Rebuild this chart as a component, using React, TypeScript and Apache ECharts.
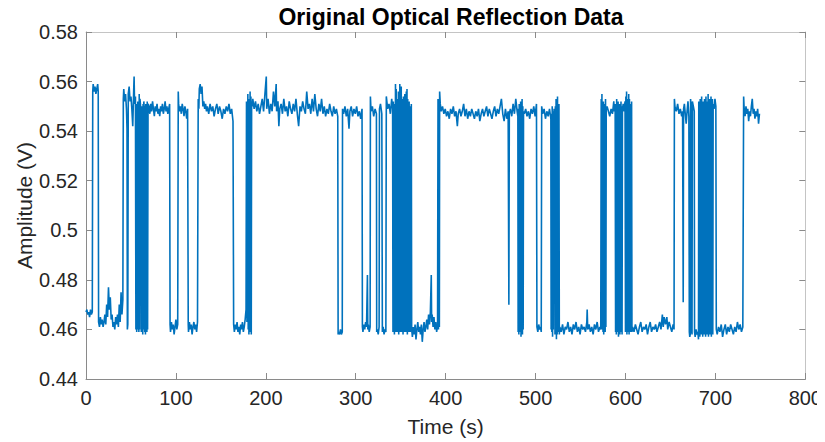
import React, { useEffect, useRef } from "react";
import * as echarts from "echarts";

// [time (s), amplitude (V)], split by time window
const samples0to100: [number, number][] = [
  [0,0.467],[1,0.468],[2,0.466],[3,0.467],[4,0.465],[5,0.468],[6,0.466],[7,0.467],
  [7.5,0.556],[8,0.559],[9,0.556],[10,0.558],[11,0.555],[12,0.557],[13,0.559],[13.6,0.556],
  [14,0.463],[15,0.461],[16,0.465],[17,0.462],[18,0.464],[19,0.461],[20,0.463],[21,0.466],[22,0.462],[23,0.470],[24,0.465],[25,0.477],[26,0.468],[27,0.473],[28,0.464],[29,0.466],[30,0.461],[31,0.463],[32,0.460],[33,0.465],[34,0.462],[35,0.466],[36,0.461],[37,0.470],[38,0.463],[39,0.475],[40,0.466],[41,0.472],
  [41.5,0.553],[42,0.557],[43,0.552],[44,0.555],[45,0.549],[45.6,0.541],[46,0.460],[46.5,0.462],[47,0.555],[48,0.558],[49,0.552],[50,0.554],[51,0.549],[52,0.542],[53,0.556],[53.5,0.562],[54,0.551],[55,0.554],
  [55.5,0.460],[56,0.549],[56.4,0.459],[56.8,0.551],[57.2,0.460],[57.6,0.552],[58,0.461],[58.4,0.548],[58.8,0.459],[59.2,0.555],[59.6,0.460],[60,0.553],[60.5,0.551],[61,0.548],[61.5,0.459],[61.9,0.550],[62.3,0.461],[62.7,0.549],[63.1,0.458],[63.5,0.551],[63.9,0.460],[64.3,0.552],[64.8,0.549],[65.3,0.459],[65.7,0.550],[66.1,0.458],[66.5,0.551],[66.9,0.460],[67.3,0.549],[67.7,0.459],[68.1,0.552],[68.5,0.460],[69,0.551],
  [70,0.550],[71,0.547],[72,0.551],[73,0.548],[74,0.552],[75,0.549],[76,0.546],[77,0.550],[78,0.548],[79,0.551],[80,0.547],[81,0.549],[82,0.546],[83,0.550],[84,0.548],[85,0.551],[86,0.547],[87,0.549],[88,0.552],[89,0.548],[90,0.550],[91,0.547],[92,0.549],[93,0.551],
  [93.5,0.462],[94,0.459],[95,0.463],[96,0.460],[97,0.462],[98,0.458],[99,0.461],[100,0.464],
];

const samples100to200: [number, number][] = [
  [101,0.460],[102,0.462],
  [102.6,0.556],[103,0.551],[104,0.548],[105,0.550],[106,0.547],[107,0.551],[108,0.549],[109,0.546],[110,0.550],[111,0.548],[112,0.545],[113,0.549],
  [113.7,0.462],[114,0.459],[115,0.463],[116,0.460],[117,0.462],[118,0.458],[119,0.461],[120,0.463],[121,0.460],[122,0.462],[123,0.459],[124,0.463],
  [124.8,0.553],[125.5,0.549],[126,0.557],[127,0.559],[128,0.555],[129,0.558],[130,0.550],[131,0.552],[132,0.549],[133,0.551],[134,0.548],
  [135,0.550],[136.5,0.547],[138,0.551],[139.5,0.548],[141,0.550],[142.5,0.546],[144,0.549],[145.5,0.551],[147,0.547],[148.5,0.550],[150,0.548],[151.5,0.545],[153,0.549],[154.5,0.547],[156,0.550],[157.5,0.548],[159,0.551],[160.5,0.547],[162,0.549],[163.5,0.544],
  [164.2,0.462],[165,0.459],[166,0.462],[167,0.460],[168,0.463],[169,0.459],[170,0.461],[171,0.458],[172,0.462],[173,0.460],[174,0.463],[175,0.459],[176,0.461],[177,0.464],[178,0.468],
  [178.5,0.552],[179,0.463],[179.5,0.470],[180,0.555],[180.4,0.460],[180.8,0.553],[181.2,0.458],[181.6,0.551],[182,0.459],[182.5,0.556],[183,0.460],[183.4,0.554],[183.8,0.458],[184.2,0.552],[184.8,0.550],
  [185.5,0.553],[187,0.549],[188.5,0.552],[190,0.548],[191.5,0.551],[193,0.547],[194.5,0.550],[196,0.553],[197.5,0.548],[199,0.555],
];

const samples200to300: [number, number][] = [
  [200.5,0.562],[201,0.549],[202.5,0.553],[204,0.547],[205.5,0.551],[207,0.548],[208.5,0.556],[210,0.550],[211.5,0.559],[212,0.548],[213.5,0.552],[214.5,0.542],[215.5,0.549],[217,0.551],[218.5,0.547],[220,0.553],[221.5,0.548],[223,0.550],[224.5,0.546],[226,0.552],[227.5,0.549],[229,0.547],[230.5,0.551],[232,0.548],[233.5,0.553],[235,0.547],[236.5,0.542],[238,0.550],[239.5,0.548],[241,0.552],[242.5,0.549],[244,0.547],[245.5,0.556],[247,0.549],[248.5,0.551],[250,0.547],[251.5,0.553],[253,0.548],[254.5,0.555],[256,0.549],[257.5,0.546],[259,0.551],[260.5,0.548],[262,0.553],[263.5,0.547],[265,0.550],[266.5,0.546],[268,0.549],[269.5,0.547],[271,0.551],[272.5,0.548],[274,0.546],[275.5,0.550],[277,0.547],[278.5,0.549],[280,0.546],
  [280.4,0.458],[281,0.459],[282,0.458],[283,0.460],[284,0.458],[285,0.459],
  [285.3,0.549],[286.5,0.547],[288,0.550],[289.5,0.546],[291,0.549],[292.5,0.541],[293.5,0.548],[295,0.550],[296.5,0.546],[298,0.549],[299.5,0.547],
];

const samples300to400: [number, number][] = [
  [301,0.550],[302.5,0.546],[304,0.548],[305.5,0.545],[307,0.549],
  [307.4,0.461],[308,0.459],[309,0.462],[310,0.460],[311,0.463],[312,0.461],[313,0.482],[313.4,0.460],[314,0.462],[315,0.459],[316,0.461],
  [316.3,0.554],[317,0.548],[318.5,0.550],[320,0.546],[321.5,0.549],[323,0.547],[323.3,0.459],[324,0.460],[325,0.458],[326,0.461],[326.4,0.549],[327.5,0.551],[329,0.547],[329.6,0.459],[330.5,0.461],[331.5,0.458],[332.5,0.460],[333.5,0.459],[334,0.554],[335.5,0.549],[337,0.551],[338.5,0.547],[340,0.553],[341,0.549],
  [341.4,0.459],[341.8,0.552],[342.2,0.460],[342.6,0.549],[343,0.458],[343.4,0.551],[343.8,0.460],[344.2,0.559],[344.6,0.459],[345,0.557],[345.4,0.461],[345.8,0.550],[346.2,0.459],[346.6,0.553],[347,0.460],[347.4,0.556],[347.8,0.458],[348.2,0.552],[348.6,0.460],[349,0.559],[349.4,0.459],[349.8,0.551],[350.2,0.461],[350.6,0.558],[351,0.459],[351.4,0.553],[351.8,0.460],[352.2,0.550],[352.6,0.458],[353,0.554],[353.4,0.460],[353.8,0.551],[354.2,0.459],[354.6,0.555],[355,0.461],[355.4,0.552],[355.8,0.459],[356.2,0.556],[356.6,0.460],[357,0.557],[357.4,0.458],[357.8,0.553],[358.2,0.460],[358.6,0.549],[359,0.459],[359.4,0.552],[359.8,0.461],[360.2,0.550],[360.6,0.459],[361,0.548],[361.4,0.460],[361.8,0.551],
  [362.2,0.460],[363,0.457],[364,0.461],[365,0.458],[366,0.462],[367,0.456],[368,0.460],[369,0.463],[370,0.459],[371,0.461],[372,0.458],[373,0.462],[374,0.455],[375,0.460],[376,0.463],[377,0.459],[378,0.461],[379,0.464],[380,0.460],[381,0.466],[382,0.462],[383,0.467],[384,0.482],[384.4,0.463],[385,0.466],[386,0.461],[387,0.465],[388,0.460],[389,0.463],[390,0.459],[391,0.462],
  [391.5,0.553],[392,0.460],[392.5,0.552],[393,0.461],
  [393.3,0.556],[394,0.551],[395,0.548],[396.5,0.550],[398,0.547],[399.5,0.549],
];

const samples400to500: [number, number][] = [
  [401,0.546],[402.5,0.548],[404,0.545],[405.5,0.549],[407,0.547],[408.5,0.550],[410,0.546],[411.5,0.548],[413,0.542],[414,0.547],[415.5,0.549],[417,0.546],[418.5,0.548],[420,0.551],[421.5,0.546],[423,0.549],[424.5,0.545],[426,0.548],[427.5,0.546],[429,0.549],[430.5,0.547],[432,0.545],[433.5,0.548],[435,0.546],[436.5,0.549],[438,0.544],[439.5,0.547],[441,0.549],[442.5,0.546],[444,0.548],[445.5,0.550],[447,0.546],[448.5,0.549],[450,0.547],[451.5,0.545],[453,0.548],[454.5,0.550],[456,0.546],[457.5,0.549],[459,0.547],[460.5,0.550],[462,0.553],[463.5,0.547],[465,0.544],[466.5,0.549],[468,0.545],[469.5,0.548],
  [470.3,0.470],[470.8,0.547],
  [472,0.549],[473.5,0.546],[475,0.551],[476.5,0.547],[478,0.553],[479.5,0.548],[480.3,0.546],
  [480.6,0.459],[481,0.549],[481.4,0.458],[481.8,0.551],[482.2,0.460],[482.6,0.548],[483,0.459],[483.4,0.552],[483.8,0.457],[484.2,0.549],[484.6,0.459],[485,0.553],[485.4,0.458],[485.8,0.550],[486.2,0.460],[486.6,0.548],
  [487.5,0.547],[489,0.549],[490.5,0.546],[492,0.548],[493.5,0.545],[495,0.549],[496.5,0.547],[498,0.550],[499.5,0.546],
];

const samples500to600: [number, number][] = [
  [501,0.551],
  [501.5,0.461],[502.5,0.459],[503.5,0.462],[504.5,0.460],[505.5,0.461],[506.3,0.459],
  [506.8,0.550],[508,0.547],[509.5,0.549],[511,0.545],[512.5,0.548],[514,0.546],[515.5,0.549],[517,0.545],
  [517.3,0.460],[517.7,0.547],[518.1,0.459],[518.5,0.550],[518.9,0.457],[519.3,0.548],[519.7,0.460],[520.1,0.546],[520.6,0.549],[521.2,0.547],[521.6,0.458],[522,0.550],[522.4,0.459],[522.8,0.553],[523.2,0.456],[523.6,0.549],[524,0.458],[524.4,0.554],[524.8,0.460],[525.2,0.548],[525.6,0.459],[526,0.551],[526.4,0.458],
  [527,0.461],[528.5,0.459],[530,0.462],[531.5,0.458],[533,0.461],[534.5,0.460],[536,0.463],[537.5,0.459],[539,0.461],[540.5,0.458],[542,0.462],[543.5,0.460],[545,0.463],[546.5,0.459],[548,0.461],[549.5,0.458],[551,0.462],[552.5,0.460],[554,0.461],[555.5,0.459],[557,0.463],[557.4,0.468],[558,0.460],[559.5,0.462],[561,0.459],[562.5,0.461],[564,0.458],[565.5,0.462],[567,0.460],[568.5,0.463],[570,0.459],[571.5,0.461],[572.5,0.460],
  [573,0.553],[573.4,0.460],[573.8,0.555],[574.2,0.462],[574.6,0.551],[575,0.459],[575.4,0.552],[575.8,0.458],[576.2,0.550],[576.6,0.460],[577,0.551],[577.4,0.459],[577.8,0.553],[578.2,0.461],[578.6,0.549],
  [579.5,0.550],[581,0.548],[582.5,0.546],[584,0.549],[585.5,0.547],
  [587,0.552],[587.5,0.548],[588.5,0.551],[589,0.459],[589.4,0.550],[589.8,0.458],[590.2,0.553],[590.6,0.460],[591,0.549],[591.4,0.459],[591.8,0.552],[592.2,0.457],[592.6,0.550],[593,0.460],[593.4,0.551],[593.8,0.458],[594.2,0.549],[594.6,0.459],[595,0.552],[595.4,0.460],[595.8,0.550],[596.2,0.458],[596.6,0.549],[597.5,0.551],[598.5,0.548],[599.5,0.552],
];

const samples600to700: [number, number][] = [
  [600,0.459],[600.4,0.554],[600.8,0.460],[601.2,0.556],[601.6,0.458],[602,0.551],[602.4,0.459],[602.8,0.553],[603.2,0.461],[603.6,0.555],[604,0.458],[604.4,0.553],[604.8,0.460],[605.2,0.549],[605.6,0.459],[606,0.551],[606.4,0.460],[606.8,0.552],[607.2,0.459],
  [608,0.461],[609.5,0.459],[611,0.462],[612.5,0.460],[614,0.458],[615.5,0.461],[617,0.463],[618.5,0.459],[620,0.461],[621.5,0.460],[623,0.462],[624.5,0.458],[626,0.461],[627.5,0.463],[629,0.459],[630.5,0.461],[632,0.460],[633.5,0.462],[635,0.459],[636.5,0.461],[638,0.463],[639.5,0.460],[641,0.466],[642,0.461],[643,0.465],[644.5,0.462],[646,0.465],[647,0.460],[648.5,0.463],[650,0.461],[651.5,0.459],[653,0.462],[654,0.460],
  [654.4,0.553],[655,0.550],[656.5,0.548],[658,0.551],[659.5,0.547],[661,0.549],[662.5,0.546],[663.5,0.548],[664.2,0.471],[664.6,0.549],[665.5,0.551],[666.5,0.547],[667.5,0.543],[668.5,0.548],[669.5,0.552],[670.5,0.546],
  [671,0.459],[671.5,0.457],[672,0.458],[672.4,0.553],[673,0.549],[673.5,0.460],[674,0.458],[674.4,0.552],[675.5,0.550],[676.5,0.548],[676.8,0.459],[677.5,0.457],[678.5,0.460],[679.5,0.458],[680.5,0.459],[681.2,0.456],
  [681.5,0.552],[681.9,0.459],[682.3,0.550],[682.7,0.457],[683.1,0.553],[683.5,0.460],[683.9,0.551],[684.3,0.458],[684.7,0.554],[685.1,0.459],[685.5,0.550],[685.9,0.457],[686.3,0.552],[686.7,0.460],[687.1,0.549],[687.5,0.458],[687.9,0.553],[688.3,0.459],[688.7,0.551],[689.1,0.457],[689.5,0.554],[689.9,0.460],[690.3,0.550],[690.7,0.458],[691.1,0.552],[691.5,0.459],[691.9,0.555],[692.3,0.457],[692.7,0.551],[693.1,0.460],[693.5,0.553],[693.9,0.458],[694.3,0.550],[694.7,0.459],[695.1,0.554],[695.5,0.457],[695.9,0.551],[696.3,0.460],[696.7,0.553],[697.1,0.458],
  [697.5,0.551],[698.5,0.549],[699.5,0.553],
];

const samples700to750: [number, number][] = [
  [700.5,0.550],
  [701,0.460],[702,0.458],[703.5,0.461],[705,0.459],[706.5,0.462],[708,0.457],[709.5,0.460],[711,0.462],[712.5,0.458],[714,0.461],[715.5,0.459],[717,0.462],[718.5,0.460],[720,0.458],[721.5,0.461],[723,0.459],[724.5,0.463],[726,0.460],[727.5,0.462],[729,0.459],[730.5,0.461],
  [731.4,0.554],[732,0.549],[733,0.546],[734,0.550],[735,0.547],[736,0.549],[737,0.544],[738,0.548],[739,0.546],[740,0.550],[741,0.553],[742,0.547],[743,0.549],[744,0.545],[745,0.548],[746,0.546],[747,0.549],[748,0.543],[749,0.547],
];

const xTicks = { min: 0, max: 800, interval: 100 };
const yTicks = { min: 0.44, max: 0.58, interval: 0.02 };

const titleText = "Original Optical Reflection Data";
const xName = "Time (s)";
const yName = "Amplitude (V)";

export default function App() {
  const ref = useRef<HTMLDivElement>(null);
  useEffect(() => {
    if (!ref.current) return;
    const chart = echarts.init(ref.current, undefined, { renderer: "svg" });
    const data = [
      ...samples0to100, ...samples100to200, ...samples200to300, ...samples300to400,
      ...samples400to500, ...samples500to600, ...samples600to700, ...samples700to750,
    ];
    const font = "'Liberation Sans', Arial, Helvetica, sans-serif";
    const axisDark = "#8a8a8a";
    const axisLight = "#c4c4c4";
    const labelColor = "#262626";
    chart.setOption({
      animation: false,
      backgroundColor: "#ffffff",
      title: {
        text: titleText,
        left: 446,
        textAlign: "center",
        top: 0,
        textStyle: { fontFamily: font, fontSize: 23, fontWeight: "bold", color: "#000000" },
      },
      grid: { left: 86, right: 19, top: 32, bottom: 62, containLabel: false },
      xAxis: [
        {
          type: "value", ...xTicks, position: "bottom",
          name: xName, nameLocation: "middle", nameGap: 37, nameMoveOverlap: false,
          nameTextStyle: { fontFamily: font, fontSize: 21, color: labelColor },
          axisLine: { show: true, onZero: false, lineStyle: { color: axisDark, width: 1 } },
          axisTick: { show: true, inside: true, length: 6, lineStyle: { color: axisDark } },
          axisLabel: { fontFamily: font, fontSize: 20, color: labelColor, margin: 9 },
          splitLine: { show: false },
        },
        {
          type: "value", ...xTicks, position: "top",
          axisLine: { show: true, onZero: false, lineStyle: { color: axisLight, width: 1 } },
          axisTick: { show: true, inside: true, length: 6, lineStyle: { color: axisDark } },
          axisLabel: { show: false },
          splitLine: { show: false },
        },
      ],
      yAxis: [
        {
          type: "value", ...yTicks, position: "left",
          name: yName, nameLocation: "middle", nameGap: 51, nameMoveOverlap: false,
          nameTextStyle: { fontFamily: font, fontSize: 21, color: labelColor },
          axisLine: { show: true, onZero: false, lineStyle: { color: axisDark, width: 1 } },
          axisTick: { show: true, inside: true, length: 6, lineStyle: { color: axisDark } },
          axisLabel: {
            fontFamily: font, fontSize: 20, color: labelColor, margin: 8,
            formatter: (v: number) => String(parseFloat(v.toFixed(2))),
          },
          splitLine: { show: false },
        },
        {
          type: "value", ...yTicks, position: "right",
          axisLine: { show: true, onZero: false, lineStyle: { color: axisLight, width: 1 } },
          axisTick: { show: true, inside: true, length: 6, lineStyle: { color: axisDark } },
          axisLabel: { show: false },
          splitLine: { show: false },
        },
      ],
      series: [
        {
          type: "line",
          xAxisIndex: 0,
          yAxisIndex: 0,
          data,
          showSymbol: false,
          symbol: "none",
          lineStyle: { color: "#0072BD", width: 1.6 },
          itemStyle: { color: "#0072BD" },
          emphasis: { disabled: true },
        },
      ],
    });
    return () => chart.dispose();
  }, []);
  return <div ref={ref} style={{ width: 825, height: 442, marginLeft: -8, marginTop: -8 }} />;
}
